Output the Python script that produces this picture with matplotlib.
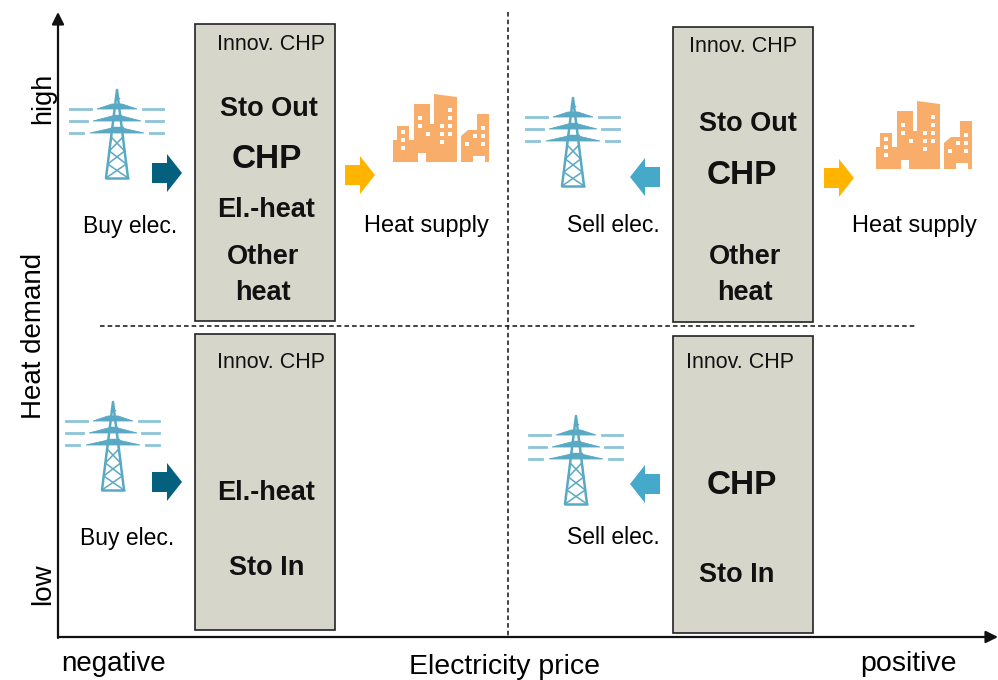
import matplotlib
matplotlib.use("Agg")
import matplotlib.pyplot as plt
from matplotlib.patches import Polygon, Rectangle

plt.rcParams["font.family"] = ["Liberation Sans", "DejaVu Sans"]

X_LABELS = ["negative", "Electricity price", "positive"]
Y_LABELS = ["low", "Heat demand", "high"]
BOX_TITLE = "Innov. CHP"
BOX_ITEMS = [
    ["Sto Out", "CHP", "El.-heat", "Other\nheat"],
    ["Sto Out", "CHP", "Other\nheat"],
    ["El.-heat", "Sto In"],
    ["CHP", "Sto In"],
]
TRADE_LABELS = ["Buy elec.", "Sell elec.", "Buy elec.", "Sell elec."]
HEAT_LABEL = "Heat supply"

TOWER = "#5aa9c4"
WIRE = "#8cc4d8"
DARK_ARROW = "#04607f"
LIGHT_ARROW = "#45a9c9"
YELLOW = "#ffb400"
ORANGE = "#f9ad6a"
BOX = "#d6d6ca"


def draw_tower(ax, x, y):
    # x, y = top of the tower
    kw = dict(color=TOWER, lw=1.8, solid_capstyle="round")
    ax.plot([x - 11, x, x + 11], [y + 88, y, y + 88], **kw)
    ax.plot([x - 11, x + 11], [y + 88, y + 88], **kw)
    for dy, half in [(19, 20), (31, 24), (43, 27)]:
        ax.fill([x - half, x + half, x + 5, x - 5], [y + dy, y + dy, y + dy - 5, y + dy - 5], color=TOWER, lw=0.6)
    for dy in [8, 14, 25, 37]:
        half = dy * 11 / 88 + 1
        ax.plot([x - half, x + half], [y + dy, y + dy], color=TOWER, lw=1.0)
    for top, bottom in [(47, 61), (61, 74), (74, 88)]:
        w_top = top * 11 / 88
        w_bottom = bottom * 11 / 88
        ax.plot([x - w_top, x + w_bottom], [y + top, y + bottom], color=TOWER, lw=1.1)
        ax.plot([x + w_top, x - w_bottom], [y + top, y + bottom], color=TOWER, lw=1.1)
    for dy, left, right in [(19, (-47, -26), (26, 46)), (31, (-47, -30), (29, 46)), (43, (-47, -34), (33, 46))]:
        ax.plot([x + left[0], x + left[1]], [y + dy, y + dy], color=WIRE, lw=2.0)
        ax.plot([x + right[0], x + right[1]], [y + dy, y + dy], color=WIRE, lw=2.0)


def draw_arrow(ax, x, y, color, direction=1):
    # x = left edge for right arrows, right edge for left arrows
    pts = [(0, -10), (15, -10), (15, -19), (30, 0), (15, 19), (15, 10), (0, 10)]
    ax.add_patch(Polygon([(x + direction * px, y + py) for px, py in pts], color=color, lw=0))


def draw_city(ax, x, y):
    # x, y = lower left corner of the buildings
    outline = [(0, 0), (0, -22), (4, -22), (4, -36), (16, -36), (16, -22), (21, -22), (21, -58),
               (37, -58), (37, -38), (41, -38), (41, -68), (64, -65), (64, 0), (33, 0), (33, -9),
               (25, -9), (25, 0)]
    ax.add_patch(Polygon([(x + a, y + b) for a, b in outline], color=ORANGE, lw=0))
    right = [(68, 0), (68, -26), (75, -32), (84, -32), (84, -48), (96, -48), (96, 0), (92, 0),
             (92, -6), (80, -6), (80, 0)]
    ax.add_patch(Polygon([(x + a, y + b) for a, b in right], color=ORANGE, lw=0))
    for a, b in [(10, -30), (10, -22), (10, -14), (27, -44), (27, -36), (35, -28), (49, -36),
                 (57, -52), (57, -44), (57, -36), (49, -28), (57, -28), (49, -20), (74, -18),
                 (82, -26), (90, -34), (90, -26), (90, -18)]:
        ax.add_patch(Rectangle((x + a - 2, y + b - 2), 4, 4, color="white", lw=0))


def draw_box(ax, left, top, right, bottom, title_x, title_y):
    ax.add_patch(Rectangle((left, top), right - left, bottom - top, fc=BOX, ec="#222222", lw=1.2))
    ax.text(title_x, title_y, BOX_TITLE, fontsize=15.5, ha="center", va="center", color="#111111")


def box_text(ax, x, y, text, size=19.5):
    ax.text(x, y, text, fontsize=size, fontweight="bold", ha="center", va="center",
            color="#111111", linespacing=1.55)


fig = plt.figure(figsize=(9.98, 6.8), dpi=100)
ax = fig.add_axes([0, 0, 1, 1])
ax.set_xlim(0, 998)
ax.set_ylim(680, 0)
ax.axis("off")

# main axes
arrow = dict(arrowstyle="-|>", color="#111111", lw=1.6, shrinkA=0, shrinkB=0, mutation_scale=18)
ax.annotate("", xy=(998, 637), xytext=(58, 637), arrowprops=arrow)
ax.annotate("", xy=(58, 12), xytext=(58, 638), arrowprops=arrow)
ax.plot([508, 508], [12, 637], color="#111111", lw=1.1, ls=(0, (3, 2)))
ax.plot([100, 917], [326, 326], color="#111111", lw=1.1, ls=(0, (3, 2)))

ax.text(114, 664, X_LABELS[0], fontsize=20, ha="center", va="center")
ax.text(505, 667, X_LABELS[1], fontsize=20.5, ha="center", va="center")
ax.text(908, 664, X_LABELS[2], fontsize=20.5, ha="center", va="center")
ax.text(43, 584, Y_LABELS[0], fontsize=20, rotation=90, ha="center", va="center")
ax.text(34, 336, Y_LABELS[1], fontsize=20, rotation=90, ha="center", va="center")
ax.text(43, 98, Y_LABELS[2], fontsize=19.5, rotation=90, ha="center", va="center")

# boxes
draw_box(ax, 195, 24, 335, 321, 271, 45)
draw_box(ax, 673, 27, 813, 322, 743, 46)
draw_box(ax, 195, 334, 335, 630, 271, 363)
draw_box(ax, 673, 336, 813, 633, 740, 363)

box_text(ax, 269, 109, BOX_ITEMS[0][0])
box_text(ax, 267, 160, BOX_ITEMS[0][1], 24)
box_text(ax, 266, 210, BOX_ITEMS[0][2])
box_text(ax, 263, 275, BOX_ITEMS[0][3])

box_text(ax, 748, 124, BOX_ITEMS[1][0])
box_text(ax, 742, 176, BOX_ITEMS[1][1], 24)
box_text(ax, 745, 275, BOX_ITEMS[1][2])

box_text(ax, 266, 493, BOX_ITEMS[2][0])
box_text(ax, 267, 568, BOX_ITEMS[2][1])

box_text(ax, 742, 485, BOX_ITEMS[3][0], 24)
box_text(ax, 737, 575, BOX_ITEMS[3][1])

# towers and arrows
draw_tower(ax, 117, 90)
draw_tower(ax, 573, 98)
draw_tower(ax, 113, 402)
draw_tower(ax, 576, 416)

draw_arrow(ax, 152, 173, DARK_ARROW)
draw_arrow(ax, 660, 177, LIGHT_ARROW, -1)
draw_arrow(ax, 152, 482, DARK_ARROW)
draw_arrow(ax, 660, 484, LIGHT_ARROW, -1)
draw_arrow(ax, 345, 175, YELLOW)
draw_arrow(ax, 824, 178, YELLOW)

ax.text(130, 226, TRADE_LABELS[0], fontsize=16.5, ha="center", va="center")
ax.text(613, 226, TRADE_LABELS[1], fontsize=16.5, ha="center", va="center")
ax.text(127, 538, TRADE_LABELS[2], fontsize=16.5, ha="center", va="center")
ax.text(613, 538, TRADE_LABELS[3], fontsize=16.5, ha="center", va="center")
ax.text(426, 226, HEAT_LABEL, fontsize=17, ha="center", va="center")
ax.text(914, 226, HEAT_LABEL, fontsize=17, ha="center", va="center")

draw_city(ax, 393, 162)
draw_city(ax, 876, 169)

fig.savefig("out.png", dpi=100)
